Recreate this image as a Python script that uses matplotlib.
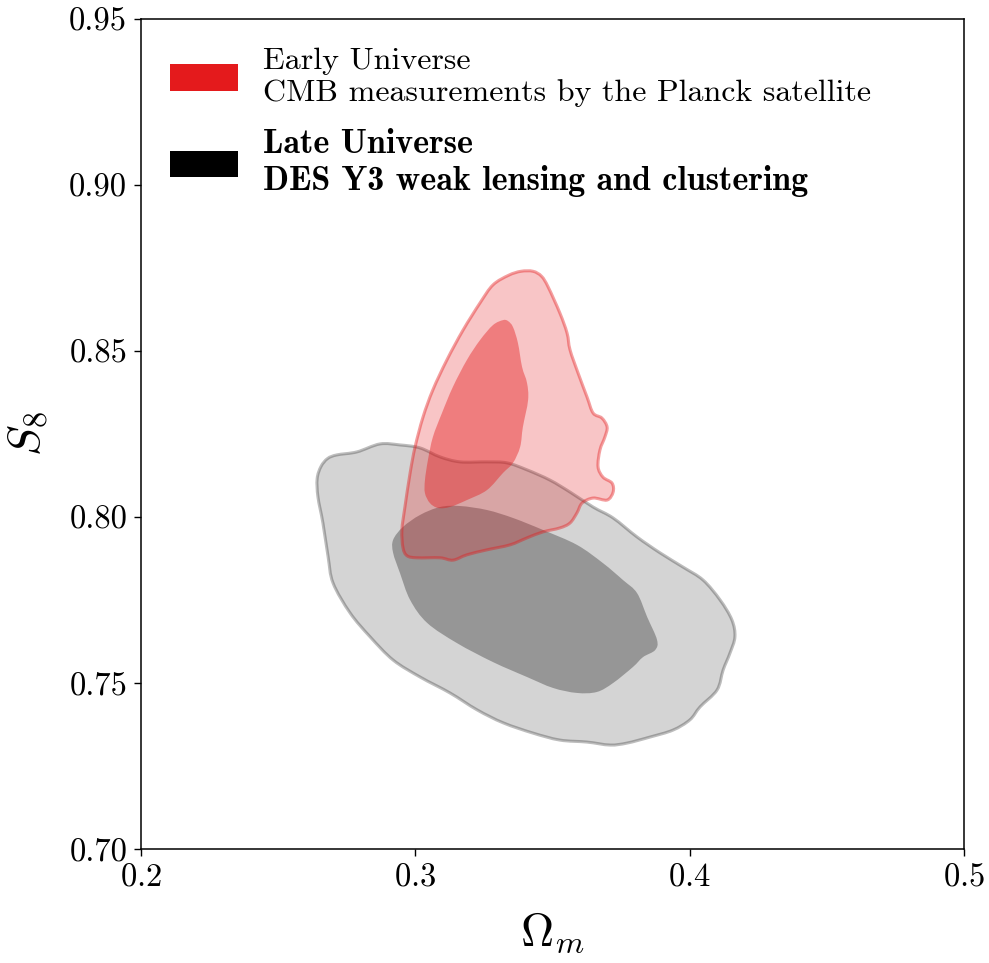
import numpy as np
import matplotlib.pyplot as plt
from matplotlib.path import Path
from matplotlib.patches import PathPatch, Patch

plt.rcParams['font.family'] = 'cmr10'
plt.rcParams['mathtext.fontset'] = 'cm'
plt.rcParams['axes.unicode_minus'] = False
plt.rcParams['axes.formatter.use_mathtext'] = True

# 68% / 95% contours in the (Omega_m, S8) plane
# Planck CMB, 95% region
planck_95_om = [0.3429, 0.3385, 0.3340, 0.3283, 0.3236, 0.3174, 0.3115, 0.3064, 0.3028, 0.2999,
                0.2981, 0.2962, 0.2951, 0.2955, 0.2970, 0.3006, 0.3090, 0.3137, 0.3188, 0.3261,
                0.3345, 0.3407, 0.3465, 0.3527, 0.3564, 0.3589, 0.3608, 0.3648, 0.3699, 0.3721,
                0.3717, 0.3684, 0.3666, 0.3673, 0.3691, 0.3699, 0.3680, 0.3648, 0.3626, 0.3593,
                0.3564, 0.3553, 0.3527, 0.3484, 0.3460]
planck_95_s8 = [0.8740, 0.8740, 0.8728, 0.8699, 0.8645, 0.8563, 0.8473, 0.8383, 0.8301, 0.8211,
                0.8133, 0.8030, 0.7961, 0.7907, 0.7883, 0.7877, 0.7877, 0.7870, 0.7886, 0.7901,
                0.7916, 0.7937, 0.7955, 0.7967, 0.7982, 0.8012, 0.8042, 0.8057, 0.8051, 0.8075,
                0.8102, 0.8120, 0.8151, 0.8202, 0.8241, 0.8271, 0.8298, 0.8313, 0.8361, 0.8434,
                0.8503, 0.8554, 0.8614, 0.8693, 0.8725]

# Planck CMB, 68% region
planck_68_om = [0.3320, 0.3283, 0.3236, 0.3188, 0.3137, 0.3097, 0.3064, 0.3046, 0.3035, 0.3035,
                0.3053, 0.3083, 0.3126, 0.3188, 0.3261, 0.3320, 0.3356, 0.3382, 0.3392, 0.3411,
                0.3407, 0.3389, 0.3374, 0.3356, 0.3338]
planck_68_s8 = [0.8593, 0.8578, 0.8533, 0.8473, 0.8392, 0.8313, 0.8241, 0.8172, 0.8111, 0.8072,
                0.8042, 0.8027, 0.8030, 0.8051, 0.8081, 0.8133, 0.8163, 0.8211, 0.8271, 0.8352,
                0.8404, 0.8452, 0.8524, 0.8572, 0.8590]

# DES Y3 3x2pt, 95% region
des_95_om = [0.2656, 0.2680, 0.2714, 0.2787, 0.2871, 0.2944, 0.3017, 0.3090, 0.3163, 0.3261,
             0.3334, 0.3407, 0.3491, 0.3564, 0.3648, 0.3721, 0.3808, 0.3892, 0.3976, 0.4049,
             0.4111, 0.4154, 0.4165, 0.4147, 0.4122, 0.4100, 0.4038, 0.4001, 0.3939, 0.3855,
             0.3772, 0.3710, 0.3626, 0.3527, 0.3429, 0.3320, 0.3225, 0.3126, 0.3017, 0.2919,
             0.2835, 0.2762, 0.2700, 0.2682, 0.2663, 0.2645, 0.2642]
des_95_s8 = [0.8152, 0.8176, 0.8187, 0.8196, 0.8220, 0.8217, 0.8208, 0.8181, 0.8166, 0.8166,
             0.8163, 0.8142, 0.8111, 0.8075, 0.8030, 0.7997, 0.7940, 0.7892, 0.7849, 0.7810,
             0.7750, 0.7690, 0.7639, 0.7590, 0.7539, 0.7479, 0.7428, 0.7389, 0.7358, 0.7337,
             0.7319, 0.7313, 0.7322, 0.7328, 0.7349, 0.7380, 0.7419, 0.7470, 0.7518, 0.7569,
             0.7639, 0.7711, 0.7801, 0.7880, 0.7982, 0.8060, 0.8115]

# DES Y3 3x2pt, 68% region
des_68_om = [0.2919, 0.2955, 0.3017, 0.3090, 0.3163, 0.3261, 0.3356, 0.3465, 0.3589, 0.3684,
             0.3757, 0.3808, 0.3845, 0.3881, 0.3874, 0.3830, 0.3793, 0.3721, 0.3662, 0.3589,
             0.3502, 0.3407, 0.3283, 0.3152, 0.3043, 0.2981, 0.2944, 0.2919]
des_68_s8 = [0.7931, 0.7970, 0.8006, 0.8030, 0.8033, 0.8021, 0.7997, 0.7961, 0.7916, 0.7861,
             0.7810, 0.7771, 0.7699, 0.7630, 0.7599, 0.7578, 0.7548, 0.7500, 0.7473, 0.7470,
             0.7485, 0.7518, 0.7563, 0.7620, 0.7681, 0.7750, 0.7831, 0.7892]

labels = ["Early Universe\nCMB measurements by the Planck satellite",
          "Late Universe\nDES Y3 weak lensing and clustering"]
colors = ['#e41a1c', 'k']


def smooth_path(xs, ys):
    # closed Catmull-Rom curve through the contour vertices
    p = np.column_stack([xs, ys])
    n = len(p)
    verts = [p[0]]
    codes = [Path.MOVETO]
    for i in range(n):
        p0, p1, p2, p3 = p[i - 1], p[i], p[(i + 1) % n], p[(i + 2) % n]
        verts += [p1 + (p2 - p0) / 6, p2 - (p3 - p1) / 6, p2]
        codes += [Path.CURVE4] * 3
    verts.append(p[0])
    codes.append(Path.CLOSEPOLY)
    return Path(verts, codes)


fig = plt.figure(figsize=(9.89, 9.63), dpi=100)
ax = fig.add_axes([0.1426, 0.1184, 0.8321, 0.8619])

# DES first, Planck drawn over it
ax.add_patch(PathPatch(smooth_path(des_95_om, des_95_s8), facecolor=(0, 0, 0, 0.17),
                       edgecolor=(0, 0, 0, 0.26), lw=2.2))
ax.add_patch(PathPatch(smooth_path(des_68_om, des_68_s8), facecolor=(0, 0, 0, 0.29),
                       edgecolor='none'))
ax.add_patch(PathPatch(smooth_path(planck_95_om, planck_95_s8), facecolor=(0.894, 0.102, 0.11, 0.25),
                       edgecolor=(0.894, 0.102, 0.11, 0.42), lw=2.2))
ax.add_patch(PathPatch(smooth_path(planck_68_om, planck_68_s8), facecolor=(0.894, 0.102, 0.11, 0.42),
                       edgecolor='none'))

ax.set_xlim(0.2, 0.5)
ax.set_ylim(0.70, 0.95)
ax.set_xticks([0.2, 0.3, 0.4, 0.5])
ax.set_yticks([0.70, 0.75, 0.80, 0.85, 0.90, 0.95])
ax.set_yticklabels(["0.70", "0.75", "0.80", "0.85", "0.90", "0.95"])
ax.tick_params(labelsize=23.5, length=5, width=1.0, pad=5)
for s in ax.spines.values():
    s.set_linewidth(1.1)

ax.set_xlabel(r"$\Omega_m$", fontsize=33, labelpad=14)
ax.set_ylabel(r"$S_8$", fontsize=33, labelpad=14)

handles = [Patch(facecolor=c) for c in colors]
leg = ax.legend(handles, labels, loc='upper left', frameon=False, fontsize=23,
                handlelength=2.15, handleheight=0.9, handletextpad=0.78,
                labelspacing=0.68, borderaxespad=0.5)
leg.get_texts()[1].set_fontfamily('cmb10')
leg.get_texts()[1].set_fontsize(24.5)

fig.savefig("out.png", dpi=100)
